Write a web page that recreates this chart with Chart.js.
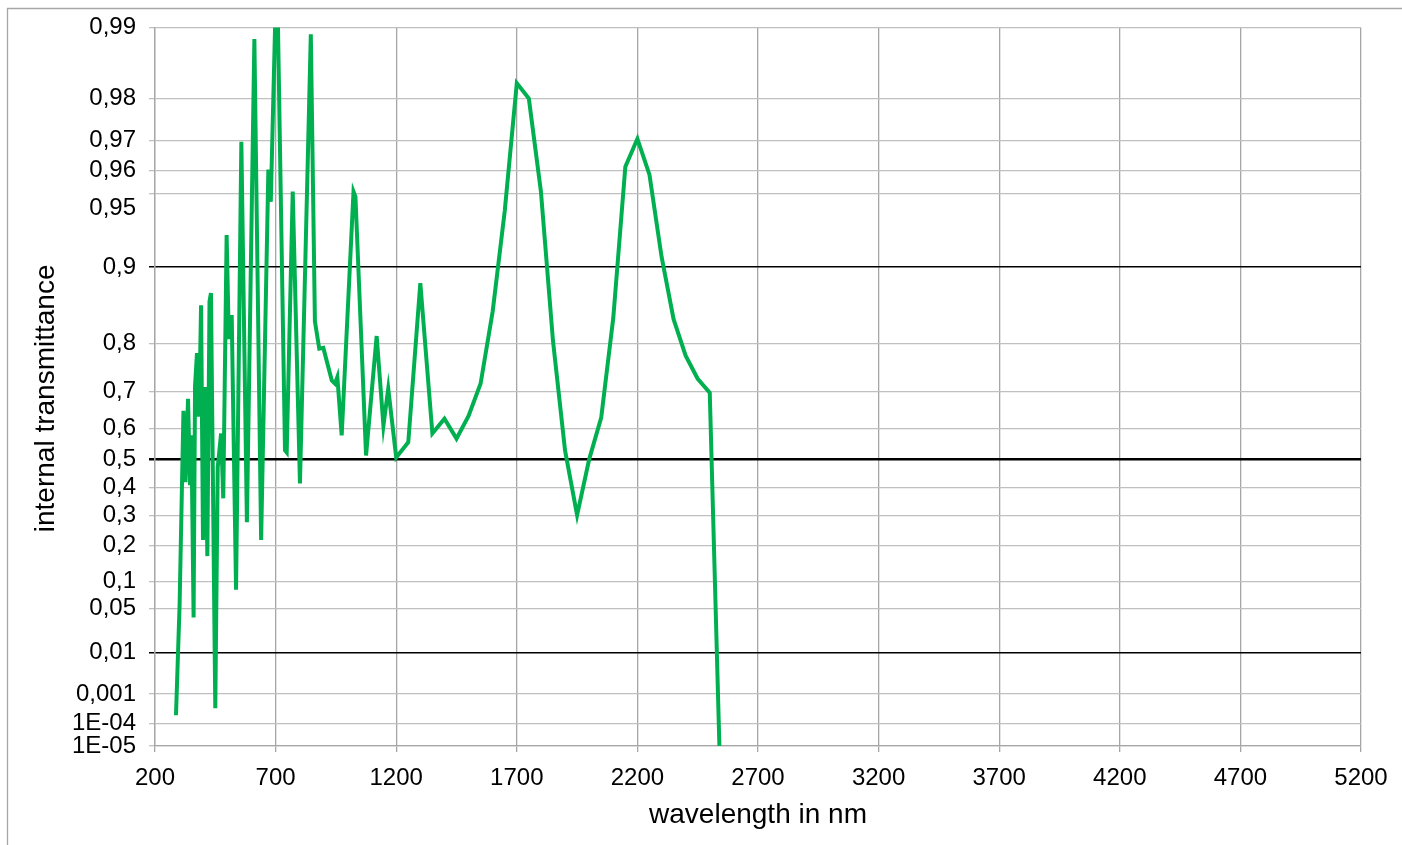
<!DOCTYPE html>
<html>
<head>
<meta charset="utf-8">
<script src="https://cdn.jsdelivr.net/npm/chart.js@4.4.1/dist/chart.umd.min.js"></script>
<style>
    html, body { margin: 0; padding: 0; background: #ffffff; }
    #wrap { width: 1402px; height: 845px; position: relative; }
</style>
</head>
<body>
<div id="wrap"><canvas id="myChart"></canvas></div>
<script>

// wavelength in nm
const wavelength = [
    287, 302, 318, 326, 337, 345, 351, 360, 366, 374,
    378, 384, 391, 399, 407, 417, 426, 432, 450, 460,
    474, 483, 497, 506, 518, 536, 558, 581, 612, 640,
    670, 680, 705, 739, 746, 771, 801, 846, 863, 881,
    898, 933, 946, 956, 974, 1023, 1031, 1075, 1119, 1147,
    1167, 1200, 1250, 1300, 1350, 1400, 1450, 1500, 1550, 1600,
    1650, 1700, 1750, 1800, 1850, 1900, 1950, 2000, 2050, 2100,
    2150, 2200, 2250, 2300, 2350, 2400, 2450, 2500, 2540
];

// internal transmittance
const transmittance = [
    0.0002, 0.056, 0.65, 0.42, 0.682, 0.409, 0.578, 0.038, 0.714, 0.783,
    0.634, 0.677, 0.858, 0.217, 0.711, 0.167, 0.863, 0.873, 0.00035, 0.472,
    0.584, 0.362, 0.926, 0.808, 0.845, 0.083, 0.9696, 0.277, 0.9888, 0.217,
    0.9603, 0.946, 0.995, 0.53, 0.523, 0.951, 0.416, 0.9893, 0.836, 0.791,
    0.7925, 0.726, 0.719, 0.734, 0.578, 0.951, 0.9486, 0.513, 0.813, 0.608,
    0.707, 0.506, 0.556, 0.884, 0.584, 0.628, 0.568, 0.636, 0.719, 0.85,
    0.941, 0.9828, 0.98, 0.951, 0.805, 0.53, 0.302, 0.5, 0.631, 0.841,
    0.9614, 0.9705, 0.9583, 0.9095, 0.839, 0.778, 0.730, 0.697, 0.00001
];

const yTickValues = [0.99, 0.98, 0.97, 0.96, 0.95, 0.9, 0.8, 0.7, 0.6, 0.5, 0.4, 0.3, 0.2, 0.1, 0.05, 0.01, 0.001, 0.0001, 0.00001];
const yTickLabels = ['0,99', '0,98', '0,97', '0,96', '0,95', '0,9', '0,8', '0,7', '0,6', '0,5', '0,4', '0,3', '0,2', '0,1', '0,05', '0,01', '0,001', '1E-04', '1E-05'];
const darkLines = ['0,9', '0,5', '0,01'];

const xMin = 200;
const xMax = 5200;
const xStep = 500;

// the 0,95 label sits a bit below its grid line in the original
const shiftedLabel = '0,95';
const shiftPx = 15;

const tickFont = { family: 'Arial', size: 24 };
const titleFont = { family: 'Arial', size: 28 };

// datasheet style axis: -log10(-log10(T))
function diabatic(t) {
    return -Math.log10(-Math.log10(t));
}

function makePoints() {
    let pts = [];
    for (let i = 0; i < wavelength.length; i++) {
        pts.push({ x: wavelength[i], y: diabatic(transmittance[i]) });
    }
    return pts;
}

const framePlugin = {
    id: 'frame',
    beforeDraw(chart) {
        const c = chart.ctx;
        c.save();
        c.strokeStyle = '#a6a6a6';
        c.lineWidth = 1.3;
        c.beginPath();
        c.moveTo(7.5, 900);
        c.lineTo(7.5, 8.5);
        c.lineTo(1410, 8.5);
        c.stroke();
        c.restore();
    }
};

const shiftedLabelPlugin = {
    id: 'shiftedLabel',
    afterDraw(chart) {
        const ys = chart.scales.y;
        const i = yTickLabels.indexOf(shiftedLabel);
        const c = chart.ctx;
        c.save();
        c.font = tickFont.size + 'px ' + tickFont.family;
        c.fillStyle = '#000';
        c.textAlign = 'right';
        c.textBaseline = 'middle';
        c.fillText(yTickLabels[i], ys.right - 6 - 13, ys.getPixelForValue(diabatic(yTickValues[i])) + shiftPx);
        c.restore();
    }
};

function createChart(chartID) {
    const ctx = document.getElementById(chartID).getContext('2d');
    const myChart = new Chart(ctx, {
        type: 'line',
        data: {
            datasets: [
                {
                    label: 'internal transmittance',
                    data: makePoints(),
                    borderColor: '#00b050',
                    borderWidth: 4,
                    pointRadius: 0,
                    tension: 0,
                    fill: false
                }
            ]
        },
        options: {
            responsive: true,
            maintainAspectRatio: false,
            animation: false,
            layout: {
                padding: { top: 25, right: 41, left: 0, bottom: 0 }
            },
            plugins: {
                legend: { display: false },
                tooltip: { enabled: false }
            },
            scales: {
                x: {
                    type: 'linear',
                    min: xMin,
                    max: xMax,
                    afterFit: function (scale) { scale.height = 99; },
                    ticks: {
                        stepSize: xStep,
                        autoSkip: false,
                        maxRotation: 0,
                        color: '#000',
                        font: tickFont,
                        padding: 12,
                        callback: function (value) { return String(value); }
                    },
                    grid: {
                        color: '#a6a6a6',
                        lineWidth: 1.3,
                        tickLength: 6
                    },
                    border: { color: '#a6a6a6', width: 1.3 },
                    title: {
                        display: true,
                        text: 'wavelength in nm',
                        color: '#000',
                        font: titleFont,
                        padding: { top: 0, bottom: 13 }
                    }
                },
                y: {
                    type: 'linear',
                    min: diabatic(yTickValues[yTickValues.length - 1]),
                    max: diabatic(yTickValues[0]),
                    afterFit: function (scale) { scale.width = 155; },
                    afterBuildTicks: function (scale) {
                        scale.ticks = yTickValues.map(t => ({ value: diabatic(t) }));
                    },
                    ticks: {
                        autoSkip: false,
                        color: '#000',
                        font: tickFont,
                        padding: 13,
                        callback: function (value, index) {
                            if (yTickLabels[index] === shiftedLabel) return '';
                            return yTickLabels[index];
                        }
                    },
                    grid: {
                        tickLength: 6,
                        color: function (c) {
                            return darkLines.includes(yTickLabels[c.index]) ? '#000000' : '#c0c0c0';
                        },
                        lineWidth: function (c) {
                            const l = yTickLabels[c.index];
                            if (l === '0,5') return 2.5;
                            if (darkLines.includes(l)) return 1.5;
                            return 1.3;
                        }
                    },
                    border: { color: '#a6a6a6', width: 1.3 },
                    title: {
                        display: true,
                        // trailing spaces push the rotated title a little lower, as in the original
                        text: 'internal transmittance\u00a0\u00a0\u00a0',
                        color: '#000',
                        font: titleFont,
                        padding: { top: 29, bottom: 0 }
                    }
                }
            }
        },
        plugins: [framePlugin, shiftedLabelPlugin]
    });
    return myChart;
}

createChart('myChart');

</script>
</body>
</html>
